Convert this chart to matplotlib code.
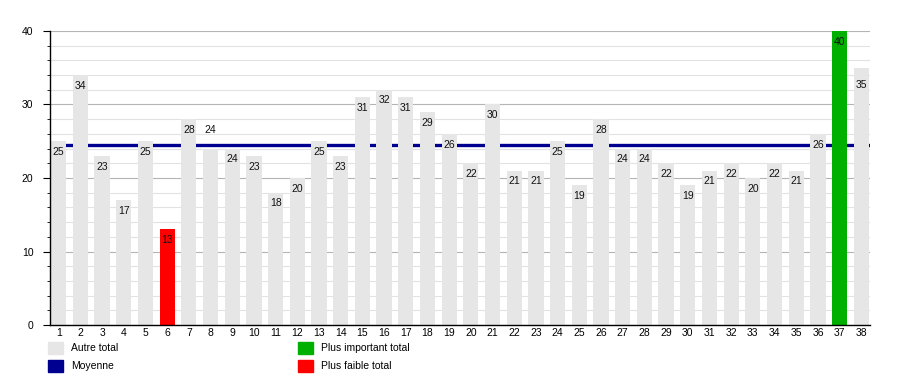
import matplotlib
matplotlib.use("Agg")
import matplotlib.pyplot as plt
from matplotlib.patches import Patch
from matplotlib.ticker import MultipleLocator
import numpy as np

plt.rcParams['font.family'] = ['Liberation Sans', 'DejaVu Sans']

# data
periods = list(range(1, 39))
totals = [25, 34, 23, 17, 25, 13, 28, 24, 24, 23, 18, 20, 25, 23, 31, 32, 31, 29, 26,
          22, 30, 21, 21, 25, 19, 28, 24, 24, 22, 19, 21, 22, 20, 22, 21, 26, 40, 35]
legend_labels = ["Autre total", "Moyenne", "Plus important total", "Plus faible total"]

grey = '#e6e6e6'
navy = '#000090'
green = '#00b000'
red = '#ff0000'

x = np.array(periods)
y = np.array(totals)
mean = y.mean()
colors = [grey] * len(y)
colors[int(np.argmax(y))] = green
colors[int(np.argmin(y))] = red

# value labels sit just under the bar top, a couple are moved
label_shift = {8: 2.5, 38: -2.4}

fig = plt.figure(figsize=(9, 3.75), dpi=100)
ax = fig.add_axes([50/900, 1 - 325/375, 820/900, 294/375])

# grid
ax.yaxis.set_major_locator(MultipleLocator(10))
ax.yaxis.set_minor_locator(MultipleLocator(2))
ax.grid(axis='y', which='minor', color='#e2e2e2', lw=0.8, zorder=0)
ax.grid(axis='y', which='major', color='#b4b4b4', lw=0.8, zorder=0)

ax.axhline(mean, color=navy, lw=2.4, zorder=1)
ax.bar(x, y, width=0.7, color=colors, zorder=2)

for xi, yi in zip(x, y):
    ax.text(xi, yi + label_shift.get(xi, -1.45), str(yi), ha='center', va='center',
            fontsize=7.5, color='#111111', zorder=3)

ax.set_xlim(0.6, 38.4)
ax.set_ylim(0, 40)
ax.set_xticks(x)
ax.set_xticklabels([str(p) for p in periods])
ax.tick_params(axis='x', length=0, pad=2.5, labelsize=7.5)
ax.tick_params(axis='y', which='major', length=5, pad=7, labelsize=7.5)
ax.tick_params(axis='y', which='minor', length=2.5)
for s in ['top', 'right']:
    ax.spines[s].set_visible(False)
ax.spines['left'].set_linewidth(1)
ax.spines['bottom'].set_linewidth(1)

kw = dict(frameon=False, fontsize=7.5, handlelength=1.4, handleheight=1.4,
          handletextpad=0.8, labelspacing=0.55, borderpad=0, borderaxespad=0,
          loc='upper left')
fig.legend([Patch(color=grey), Patch(color=navy)], legend_labels[:2],
           bbox_to_anchor=(48/900, 1 - 342/375), **kw)
fig.legend([Patch(color=green), Patch(color=red)], legend_labels[2:],
           bbox_to_anchor=(298/900, 1 - 342/375), **kw)

fig.savefig('out.png', dpi=100)
